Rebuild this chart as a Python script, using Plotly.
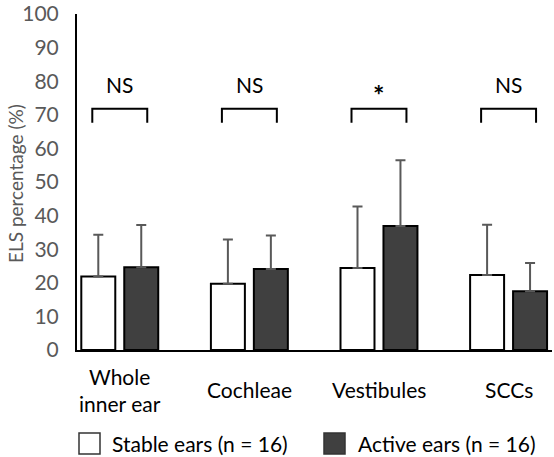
import plotly.graph_objects as go

categories = ["Whole<br>inner ear", "Cochleae", "Vestibules", "SCCs"]
stable_vals = [21.9, 19.7, 24.4, 22.3]
stable_err = [12.4, 13.2, 18.3, 15.0]
active_vals = [24.6, 24.1, 36.9, 17.5]
active_err = [12.6, 10.0, 19.6, 8.4]
significance = ["NS", "NS", "*", "NS"]
series_names = ["Stable ears (n = 16)", "Active ears (n = 16)"]
series_colors = ["white", "#404040"]
y_ticks = list(range(0, 101, 10))

FONT = "Lato"
W, H = 554, 457
ML, MR, MT, MB = 77, 2, 14, 107
xs = list(range(len(categories)))

fig = go.Figure()
for vals, errs, name, col in [(stable_vals, stable_err, series_names[0], series_colors[0]),
                              (active_vals, active_err, series_names[1], series_colors[1])]:
    fig.add_trace(go.Bar(
        x=xs, y=vals, name=name, showlegend=False,
        marker=dict(color=col, line=dict(color="black", width=2)),
        error_y=dict(type="data", array=errs, symmetric=False, arrayminus=[0] * len(errs),
                     color="#595959", thickness=2, width=5),
    ))

half = 0.212
for i, s in enumerate(significance):
    fig.add_shape(type="path",
                  path=f"M {i-half},67.6 L {i-half},71.8 L {i+half},71.8 L {i+half},67.6",
                  xref="x", yref="y", line=dict(color="black", width=2))
    star = s == "*"
    fig.add_annotation(x=i, y=76 if star else 79, xref="x", yref="y",
                       text=f"<b>{s}</b>" if star else s,
                       showarrow=False,
                       font=dict(family=FONT, size=27 if star else 21, color="black"),
                       yanchor="middle")
    fig.add_annotation(x=i, y=-0.118, xref="x", yref="paper", text=categories[i],
                       showarrow=False, font=dict(family=FONT, size=21, color="black"),
                       yanchor="middle")

# y-axis title
fig.add_annotation(x=(15 - ML) / (W - ML - MR), y=(H - MB - 184) / (H - MT - MB),
                   xref="paper", yref="paper", text="ELS percentage (%)", textangle=-90,
                   showarrow=False, font=dict(family=FONT, size=19, color="#595959"),
                   xanchor="center", yanchor="middle")

# manual legend
pw, ph = W - ML - MR, H - MT - MB
def px2x(p):
    return (p - ML) / pw
def py2y(p):
    return (H - MB - p) / ph
legend_boxes = [(79, 110), (324, 356)]
for (bx, tx), name, col in zip(legend_boxes, series_names, series_colors):
    fig.add_shape(type="rect", xref="paper", yref="paper",
                  x0=px2x(bx), x1=px2x(bx + 21), y0=py2y(454), y1=py2y(433),
                  fillcolor=col, line=dict(color="#333333", width=1.5))
    fig.add_annotation(x=px2x(tx), y=py2y(443.5), xref="paper", yref="paper", text=name,
                       showarrow=False, xanchor="left", yanchor="middle",
                       font=dict(family=FONT, size=21, color="black"))

fig.update_layout(
    width=W, height=H,
    margin=dict(l=ML, r=MR, t=MT, b=MB),
    plot_bgcolor="white", paper_bgcolor="white",
    barmode="group", bargap=0.337, bargroupgap=0.209,
    font=dict(family=FONT, size=21, color="#595959"),
    showlegend=False,
    xaxis=dict(range=[-0.33, 3.335], showticklabels=False, showline=True,
               linecolor="black", linewidth=2, showgrid=False, zeroline=False,
               ticks="", automargin=False),
    yaxis=dict(range=[0, 100], tickvals=y_ticks, showline=True, linecolor="black",
               linewidth=2, showgrid=False, zeroline=False, ticks="",
               ticklabelstandoff=12, automargin=False, ticklabeloverflow="allow",
               tickfont=dict(family=FONT, size=21, color="#595959")),
)

fig.write_html("out.html", config={"displayModeBar": False},
               post_script="document.body.style.margin='0';document.body.style.padding='0';")
